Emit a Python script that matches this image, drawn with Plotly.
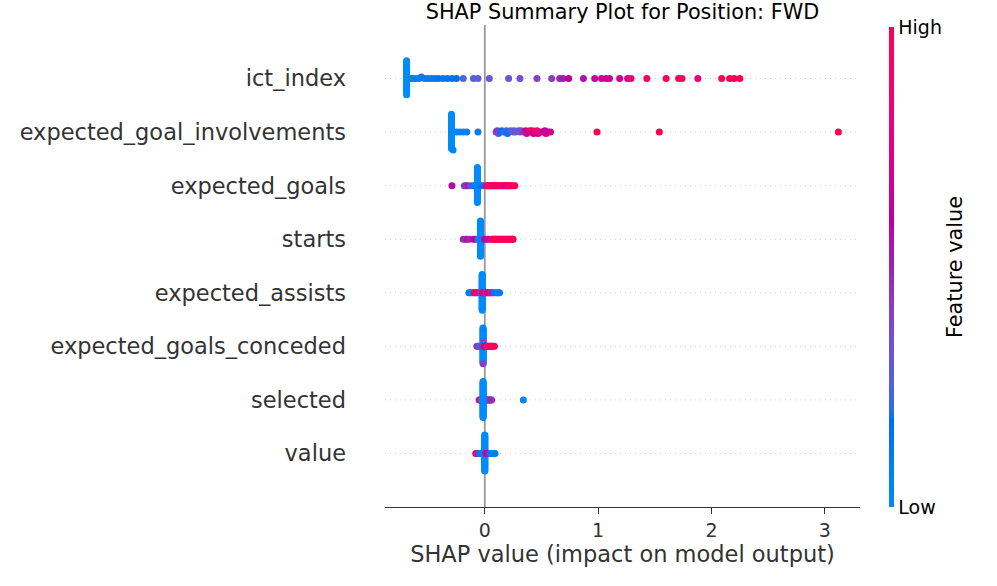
import numpy as np
import plotly.graph_objects as go

# ---------------- data ----------------
features_top_down = [
    "ict_index", "expected_goal_involvements", "expected_goals", "starts",
    "expected_assists", "expected_goals_conceded", "selected", "value",
]

ict_index_shap = [
    -0.69, -0.69, -0.69, -0.69, -0.69, -0.69, -0.69, -0.69, -0.69, -0.69, -0.69, -0.69,
    -0.69, -0.69, -0.69, -0.69, -0.69, -0.69, -0.69, -0.69, -0.69, -0.69, -0.69, -0.69,
    -0.66, -0.64, -0.61, -0.58, -0.56, -0.53, -0.50, -0.47, -0.44, -0.41, -0.37, -0.33, -0.29, -0.25,
    -0.19, -0.10, -0.06, 0.04, 0.21, 0.31, 0.46, 0.59, 0.66, 0.69,
    0.74, 0.87, 0.97, 1.03, 1.07, 1.10, 1.19, 1.26, 1.29, 1.43,
    1.60, 1.71, 1.74, 1.88, 2.09, 2.16, 2.20, 2.25,
]
ict_index_val = [
    0.0, 0.0, 0.0, 0.0, 0.0, 0.0, 0.0, 0.0, 0.0, 0.0, 0.0, 0.0,
    0.0, 0.0, 0.0, 0.0, 0.0, 0.0, 0.0, 0.0, 0.0, 0.0, 0.0, 0.0,
    0.05, 0.06, 0.08, 0.07, 0.09, 0.10, 0.09, 0.11, 0.12, 0.13, 0.12, 0.14, 0.15, 0.17,
    0.26, 0.27, 0.29, 0.33, 0.33, 0.36, 0.40, 0.42, 0.47, 0.52,
    0.60, 0.55, 0.65, 0.70, 0.66, 0.68, 0.68, 0.75, 0.82, 0.90,
    0.95, 0.97, 0.95, 0.80, 0.97, 1.00, 0.99, 1.00,
]

expected_goal_involvements_shap = [
    -0.294, -0.294, -0.294, -0.294, -0.294, -0.294, -0.294, -0.294, -0.294, -0.294, -0.294, -0.294,
    -0.294, -0.294, -0.294, -0.294, -0.294, -0.294, -0.294, -0.294, -0.294, -0.294, -0.294, -0.294,
    -0.28, -0.25, -0.22, -0.19, -0.16, -0.06,
    0.10, 0.11, 0.12, 0.14, 0.15, 0.17, 0.19, 0.20, 0.21, 0.23, 0.25,
    0.26, 0.27, 0.30, 0.31, 0.32, 0.34, 0.36, 0.37, 0.38, 0.40, 0.41,
    0.42, 0.43, 0.45, 0.46, 0.47, 0.49, 0.51, 0.53, 0.54, 0.56, 0.58,
    0.99, 1.54, 3.12,
]
expected_goal_involvements_val = [
    0.0, 0.0, 0.0, 0.0, 0.0, 0.0, 0.0, 0.0, 0.0, 0.0, 0.0, 0.0,
    0.0, 0.0, 0.0, 0.0, 0.0, 0.0, 0.0, 0.0, 0.0, 0.0, 0.0, 0.0,
    0.03, 0.05, 0.04, 0.06, 0.08, 0.10,
    0.40, 0.45, 0.38, 0.18, 0.15, 0.20, 0.22, 0.16, 0.19, 0.25, 0.30,
    0.28, 0.33, 0.27, 0.30, 0.35, 0.42, 0.70, 0.85, 0.55, 0.90, 0.75,
    0.95, 0.60, 1.00, 0.80, 0.65, 0.90, 0.70, 0.60, 0.75, 0.65, 0.70,
    1.00, 1.00, 1.00,
]

expected_goals_shap = [
    -0.065, -0.065, -0.065, -0.065, -0.065, -0.065, -0.065, -0.065, -0.065, -0.065,
    -0.065, -0.065, -0.065, -0.065, -0.065, -0.065, -0.065, -0.065, -0.065, -0.065,
    -0.065, -0.065, -0.065, -0.065, -0.065, -0.065, -0.065, -0.065, -0.065, -0.065,
    -0.29, -0.18, -0.165, -0.15, -0.125,
    -0.10, -0.085, -0.045, -0.03, -0.01,
    0.015, 0.02, 0.03, 0.04, 0.045, 0.055, 0.06, 0.07, 0.08, 0.09, 0.10, 0.11, 0.12,
    0.13, 0.14, 0.15, 0.16, 0.17, 0.18, 0.19, 0.20, 0.21, 0.22, 0.235, 0.25, 0.265,
]
expected_goals_val = [
    0.0, 0.0, 0.0, 0.0, 0.0, 0.0, 0.0, 0.0, 0.0, 0.0,
    0.0, 0.0, 0.0, 0.0, 0.0, 0.0, 0.0, 0.0, 0.0, 0.0,
    0.0, 0.0, 0.0, 0.0, 0.0, 0.0, 0.0, 0.0, 0.0, 0.0,
    0.58, 0.45, 0.42, 0.50, 0.40,
    0.10, 0.05, 0.08, 0.12, 0.15,
    0.85, 0.95, 0.90, 1.00, 0.80, 0.95, 0.90, 1.00, 0.85, 0.95, 0.70, 1.00, 0.90,
    0.95, 0.85, 1.00, 0.90, 0.95, 0.60, 0.65, 0.90, 1.00, 0.95, 0.90, 1.00, 0.95,
]

starts_shap = [
    -0.038, -0.038, -0.038, -0.038, -0.038, -0.038, -0.038, -0.038, -0.038, -0.038,
    -0.038, -0.038, -0.038, -0.038, -0.038, -0.038, -0.038, -0.038, -0.038, -0.038,
    -0.038, -0.038, -0.038, -0.038, -0.038, -0.038, -0.038, -0.038, -0.038, -0.038,
    -0.038, -0.038, -0.038, -0.038,
    -0.19, -0.17, -0.155, -0.135, -0.10, -0.08, -0.06, -0.02,
    0.0, 0.02, 0.035,
    0.06, 0.07, 0.08, 0.09, 0.10, 0.11, 0.12, 0.13, 0.14, 0.15, 0.16,
    0.17, 0.18, 0.19, 0.20, 0.21, 0.22, 0.23, 0.24, 0.245, 0.25,
]
starts_val = [
    0.0, 0.0, 0.0, 0.0, 0.0, 0.0, 0.0, 0.0, 0.0, 0.0,
    0.0, 0.0, 0.0, 0.0, 0.0, 0.0, 0.0, 0.0, 0.0, 0.0,
    0.0, 0.0, 0.0, 0.0, 0.0, 0.0, 0.0, 0.0, 0.0, 0.0,
    0.0, 0.0, 0.0, 0.0,
    0.50, 0.45, 0.55, 0.48, 0.65, 0.60, 0.05, 0.10,
    0.60, 0.70, 0.55,
    0.80, 0.90, 1.00, 0.95, 0.85, 1.00, 0.90, 0.95, 1.00, 0.85, 0.95,
    1.00, 0.90, 0.95, 1.00, 0.85, 0.95, 1.00, 0.90, 0.95, 1.00,
]

expected_assists_shap = [
    -0.023, -0.023, -0.023, -0.023, -0.023, -0.023, -0.023, -0.023, -0.023, -0.023,
    -0.023, -0.023, -0.023, -0.023, -0.023, -0.023, -0.023, -0.023, -0.023, -0.023,
    -0.023, -0.023, -0.023, -0.023, -0.023, -0.023, -0.023, -0.023, -0.023, -0.023,
    -0.023, -0.023, -0.023, -0.023, -0.023, -0.023, -0.023, -0.023, -0.023, -0.023,
    -0.14, -0.13, -0.115, -0.10, -0.08, -0.06, -0.045, -0.09, -0.07,
    -0.035, -0.02, -0.01, 0.0, 0.01, 0.015, 0.02, 0.03, 0.04, 0.05, 0.06, 0.07,
    0.085, 0.10, 0.11, 0.12, 0.13,
]
expected_assists_val = [
    0.0, 0.0, 0.0, 0.0, 0.0, 0.0, 0.0, 0.0, 0.0, 0.0,
    0.0, 0.0, 0.0, 0.0, 0.0, 0.0, 0.0, 0.0, 0.0, 0.0,
    0.0, 0.0, 0.0, 0.0, 0.0, 0.0, 0.0, 0.0, 0.0, 0.0,
    0.0, 0.0, 0.0, 0.0, 0.0, 0.0, 0.0, 0.0, 0.0, 0.0,
    0.08, 0.12, 0.05, 0.15, 0.10, 0.12, 0.08, 1.00, 0.90,
    0.35, 0.60, 0.90, 0.80, 0.95, 0.30, 0.70, 0.85, 0.55, 0.90, 0.45, 0.50,
    0.20, 0.15, 0.10, 0.05, 0.12,
]

expected_goals_conceded_shap = [
    -0.015, -0.015, -0.015, -0.015, -0.015, -0.015, -0.015, -0.015, -0.015, -0.015,
    -0.015, -0.015, -0.015, -0.015, -0.015, -0.015, -0.015, -0.015, -0.015, -0.015,
    -0.015, -0.015, -0.015, -0.015, -0.015, -0.015, -0.015, -0.015, -0.015, -0.015,
    -0.015, -0.015, -0.015, -0.015, -0.015, -0.015, -0.015, -0.015, -0.015, -0.015,
    -0.015,
    -0.07, -0.06, -0.05, -0.04, -0.03, -0.025,
    -0.02, -0.01, -0.012, -0.018, -0.008, -0.022, -0.016,
    -0.005, 0.0, 0.005, 0.01,
    0.015, 0.025, 0.035, 0.045, 0.055, 0.065, 0.075, 0.085,
]
expected_goals_conceded_val = [
    0.0, 0.0, 0.0, 0.0, 0.0, 0.0, 0.0, 0.0, 0.0, 0.0,
    0.0, 0.0, 0.0, 0.0, 0.0, 0.0, 0.0, 0.0, 0.0, 0.9,
    0.0, 0.0, 0.0, 0.0, 0.0, 0.0, 0.0, 0.0, 0.0, 0.0,
    0.0, 0.0, 0.0, 0.0, 0.0, 0.0, 0.0, 0.0, 0.0, 0.0,
    0.40,
    0.45, 0.50, 0.35, 0.30, 0.40, 0.25,
    0.10, 0.05, 0.15, 0.10, 0.10, 0.12, 0.05,
    0.55, 0.70, 0.60, 0.80,
    0.90, 1.00, 0.95, 0.85, 1.00, 0.90, 1.00, 0.95,
]

selected_shap = [
    -0.015, -0.015, -0.015, -0.015, -0.015, -0.015, -0.015, -0.015, -0.015, -0.015,
    -0.015, -0.015, -0.015, -0.015, -0.015, -0.015, -0.015, -0.015, -0.015, -0.015,
    -0.015, -0.015, -0.015, -0.015, -0.015, -0.015, -0.015, -0.015, -0.015, -0.015,
    -0.015, -0.015, -0.015, -0.015, -0.015, -0.015, -0.015, -0.015, -0.015, -0.015,
    -0.015, -0.015, -0.015, -0.015, -0.015, -0.015,
    -0.05, -0.042,
    -0.03, -0.025, -0.005, 0.0, 0.01, 0.02,
    0.025, 0.035, 0.045, 0.05, 0.06,
    -0.02, -0.01, -0.012, -0.018, -0.008, -0.022,
    0.34,
]
selected_val = [
    0.0, 0.0, 0.0, 0.0, 0.0, 0.0, 0.0, 0.0, 0.0, 0.0,
    0.0, 0.0, 0.0, 0.0, 0.0, 0.0, 0.0, 0.0, 0.0, 0.0,
    0.0, 0.0, 0.0, 0.0, 0.0, 0.0, 0.0, 0.0, 0.0, 0.0,
    0.0, 0.0, 0.0, 0.0, 0.0, 0.0, 0.0, 0.0, 0.0, 0.0,
    0.0, 0.0, 0.0, 0.0, 0.0, 0.0,
    1.00, 0.95,
    0.10, 0.05, 0.10, 0.05, 0.10, 0.08,
    0.70, 0.50, 0.45, 0.55, 0.48,
    0.00, 0.02, 0.00, 0.03, 0.02, 0.01,
    0.05,
]

value_shap = [
    0.0, 0.0, 0.0, 0.0, 0.0, 0.0, 0.0, 0.0, 0.0, 0.0, 0.0,
    0.0, 0.0, 0.0, 0.0, 0.0, 0.0, 0.0, 0.0, 0.0, 0.0, 0.0,
    0.0, 0.0, 0.0, 0.0, 0.0, 0.0, 0.0, 0.0, 0.0, 0.0, 0.0,
    0.0, 0.0, 0.0, 0.0, 0.0, 0.0, 0.0, 0.0, 0.0, 0.0, 0.0,
    -0.08, -0.07,
    -0.06, -0.05, -0.035, -0.02,
    -0.015, -0.01, -0.005, 0.005, 0.012, -0.025, 0.04, -0.045, 0.015, -0.003,
    0.01, 0.02, 0.03,
    0.05, 0.07, 0.09,
]
value_val = [
    0.0, 0.0, 0.0, 0.0, 0.0, 0.0, 0.0, 0.0, 0.0, 0.0, 0.0,
    0.0, 0.0, 0.0, 0.0, 0.0, 0.0, 0.0, 0.0, 0.0, 0.0, 0.0,
    0.0, 0.0, 0.0, 0.0, 0.0, 0.0, 0.0, 0.0, 0.0, 0.0, 0.0,
    0.0, 0.0, 0.0, 0.0, 0.0, 0.0, 0.0, 0.0, 0.0, 0.0, 0.0,
    1.00, 0.90,
    0.50, 0.45, 0.55, 0.50,
    0.05, 0.10, 0.00, 0.02, 0.08, 0.10, 0.08, 0.10, 0.05, 0.02,
    0.70, 0.60, 0.50,
    0.10, 0.05, 0.12,
]

shap_by_feature = {
    "ict_index": ict_index_shap,
    "expected_goal_involvements": expected_goal_involvements_shap,
    "expected_goals": expected_goals_shap,
    "starts": starts_shap,
    "expected_assists": expected_assists_shap,
    "expected_goals_conceded": expected_goals_conceded_shap,
    "selected": selected_shap,
    "value": value_shap,
}
val_by_feature = {
    "ict_index": ict_index_val,
    "expected_goal_involvements": expected_goal_involvements_val,
    "expected_goals": expected_goals_val,
    "starts": starts_val,
    "expected_assists": expected_assists_val,
    "expected_goals_conceded": expected_goals_conceded_val,
    "selected": selected_val,
    "value": value_val,
}

x_tick_values = [0, 1, 2, 3]
title_text = "SHAP Summary Plot for Position: FWD"
x_title = "SHAP value (impact on model output)"
colorbar_title = "Feature value"


# ---------------- helpers ----------------
def lch_to_srgb(l, c, h):
    a = c * np.cos(h)
    b = c * np.sin(h)
    fy = (l + 16.0) / 116.0
    fx = fy + a / 500.0
    fz = fy - b / 200.0

    def finv(t):
        return t ** 3 if t ** 3 > 0.008856 else (t - 16.0 / 116.0) / 7.787

    X = 0.95047 * finv(fx)
    Y = 1.0 * finv(fy)
    Z = 1.08883 * finv(fz)
    r = 3.2406 * X - 1.5372 * Y - 0.4986 * Z
    g = -0.9689 * X + 1.8758 * Y + 0.0415 * Z
    bb = 0.0557 * X - 0.2040 * Y + 1.0570 * Z

    def gam(u):
        u = min(max(u, 0.0), 1.0)
        return 1.055 * u ** (1 / 2.4) - 0.055 if u > 0.0031308 else 12.92 * u

    return gam(r), gam(g), gam(bb)


def shap_red_blue(n=100):
    blue_lch = [54.0, 70.0, 4.6588]
    l_mid = 40.0
    red_lch = [54.0, 90.0, 0.35470565 + 2 * np.pi]
    l_vals = list(np.linspace(blue_lch[0], l_mid, n // 2)) + list(np.linspace(l_mid, red_lch[0], n // 2))
    c_vals = np.linspace(blue_lch[1], red_lch[1], n)
    h_vals = np.linspace(blue_lch[2], red_lch[2], n)
    scale = []
    for pos, l, c, h in zip(np.linspace(0, 1, n), l_vals, c_vals, h_vals):
        r, g, b = lch_to_srgb(l, c, h)
        scale.append([float(pos), "rgb(%d,%d,%d)" % (round(r * 255), round(g * 255), round(b * 255))])
    scale[-1][0] = 1.0
    return scale


def beeswarm_offsets(vals, nbins=100, row_height=0.4):
    vals = np.asarray(vals, dtype=float)
    quant = np.round(nbins * (vals - vals.min()) / (vals.max() - vals.min() + 1e-8))
    inds = np.argsort(quant, kind="stable")
    layer = 0
    last_bin = -1
    ys = np.zeros(len(vals))
    for ind in inds:
        if quant[ind] != last_bin:
            layer = 0
        ys[ind] = np.ceil(layer / 2) * ((layer % 2) * 2 - 1)
        layer += 1
        last_bin = quant[ind]
    ys *= 0.9 * (row_height / np.max(ys + 1))
    return ys


# ---------------- figure ----------------
colorscale = shap_red_blue()
n_feat = len(features_top_down)
features_bottom_up = features_top_down[::-1]

all_shap = np.concatenate([np.asarray(v, float) for v in shap_by_feature.values()])
span = all_shap.max() - all_shap.min()
x_range = [all_shap.min() - 0.05 * span, all_shap.max() + 0.05 * span]

fig = go.Figure()
for pos, feat in enumerate(features_bottom_up):
    xs = np.asarray(shap_by_feature[feat], float)
    ys = pos + beeswarm_offsets(xs)
    show = pos == n_feat - 1
    marker = dict(
        size=7, color=val_by_feature[feat], colorscale=colorscale, cmin=0, cmax=1,
        line=dict(width=0), opacity=1, showscale=show,
    )
    if show:
        marker["colorbar"] = dict(
            thickness=5, len=480, lenmode="pixels",
            x=1.0 + (889 - 860) / 475.0, xanchor="left", xpad=0,
            y=0.497, yanchor="middle", ypad=0,
            outlinewidth=0, tickvals=[0, 1], ticktext=["Low", "High"], ticks="",
            tickfont=dict(size=19, color="black", family="DejaVu Sans"),
        )
    fig.add_trace(go.Scatter(x=xs, y=ys, mode="markers", marker=marker,
                             name=feat, hoverinfo="x+name"))

shapes = [dict(type="line", xref="x", yref="paper", x0=0, x1=0, y0=0, y1=1,
               line=dict(color="#999999", width=1.8), layer="below")]
for pos in range(n_feat):
    shapes.append(dict(type="line", xref="paper", yref="y", x0=0, x1=1, y0=pos, y1=pos,
                       line=dict(color="#cccccc", width=1, dash="1px,4px"), layer="below"))

annotations = [dict(text=colorbar_title, xref="paper", yref="paper",
                    x=(955 - 385) / 475.0, y=(507 - 267) / 482.0,
                    xanchor="center", yanchor="middle", textangle=-90, showarrow=False,
                    font=dict(size=20.8, color="black", family="DejaVu Sans"))]

fig.update_layout(
    width=997, height=586,
    margin=dict(l=385, r=137, t=25, b=79, autoexpand=False),
    plot_bgcolor="white", paper_bgcolor="white",
    font=dict(family="DejaVu Sans", color="#333333"),
    showlegend=False,
    shapes=shapes,
    annotations=annotations,
    title=dict(text=title_text, x=0.5, xref="paper", xanchor="center",
               y=1 - 11.5 / 586, yref="container", yanchor="middle",
               font=dict(size=20.8, color="black", family="DejaVu Sans")),
    xaxis=dict(range=x_range, showline=True, linecolor="#333333", linewidth=1.4,
               ticks="outside", ticklen=6, tickwidth=1.4, tickcolor="#333333",
               tickvals=x_tick_values, tickfont=dict(size=19, color="#333333"),
               showgrid=False, zeroline=False,
               title=dict(text=x_title, font=dict(size=22.5, color="#333333"), standoff=3)),
    yaxis=dict(range=[-1, n_feat], tickvals=list(range(n_feat)), ticktext=features_bottom_up,
               showgrid=False, zeroline=False, showline=False, ticks="",
               tickfont=dict(size=22.5, color="#333333"), ticklabelstandoff=38),
)

fig.write_html("out.html", config={"displayModeBar": False},
               post_script="document.body.style.margin='0';document.body.style.overflow='hidden';")
